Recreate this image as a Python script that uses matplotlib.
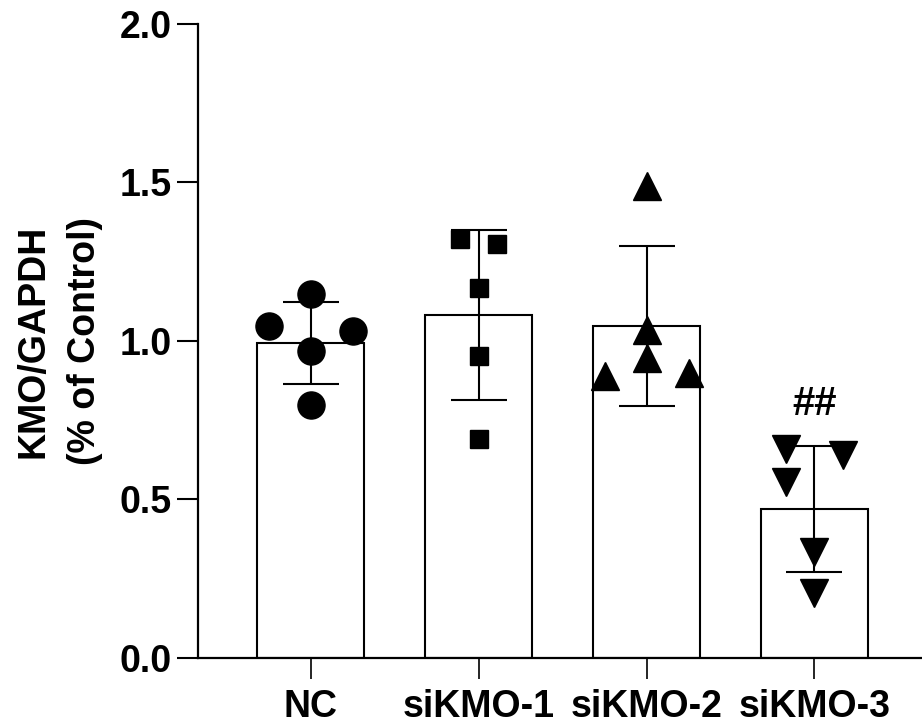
import numpy as np
import matplotlib
matplotlib.use("Agg")
import matplotlib.pyplot as plt

plt.rcParams['font.family'] = ['Liberation Sans', 'DejaVu Sans']
plt.rcParams['font.weight'] = 'bold'

# group names and bar heights (mean) with SD
groups = ["NC", "siKMO-1", "siKMO-2", "siKMO-3"]
means = [0.994, 1.082, 1.047, 0.470]
sds = [0.130, 0.268, 0.252, 0.200]

# individual points per group
nc_pts = [1.148, 1.047, 1.032, 0.968, 0.798]
si1_pts = [1.322, 1.306, 1.167, 0.953, 0.691]
si2_pts = [1.489, 1.035, 0.946, 0.890, 0.899]
si3_pts = [0.659, 0.640, 0.555, 0.334, 0.205]

# horizontal scatter of the points inside each bar
nc_dx = [0, -0.25, 0.25, 0, 0]
si1_dx = [-0.11, 0.11, 0, 0, 0]
si2_dx = [0, 0, 0, -0.25, 0.25]
si3_dx = [-0.17, 0.17, -0.17, 0, 0]

points = [nc_pts, si1_pts, si2_pts, si3_pts]
offsets = [nc_dx, si1_dx, si2_dx, si3_dx]
markers = ["o", "s", "^", "v"]
msizes = [19.5, 13, 19.5, 19.5]

fig = plt.figure(figsize=(9.22, 7.26), dpi=100)
ax = fig.add_axes([0.2148, 0.0937, 0.7852, 0.8733])

x = np.arange(len(groups))
ax.bar(x, means, width=0.64, color="white", edgecolor="black", linewidth=1.5, zorder=1)
ax.errorbar(x, means, yerr=sds, fmt="none", ecolor="black", elinewidth=1.5,
            capsize=20, capthick=1.5, zorder=2)

for i in range(len(groups)):
    ax.plot(x[i] + np.array(offsets[i]), points[i], linestyle="none",
            marker=markers[i], markersize=msizes[i], color="black", zorder=3)

ax.text(3, 0.80, "##", ha="center", va="center", fontsize=29, fontweight="bold")

ax.set_xlim(-0.67, 3.64)
ax.set_ylim(0, 2.0)
ax.set_yticks([0.0, 0.5, 1.0, 1.5, 2.0])
ax.set_yticklabels(["0.0", "0.5", "1.0", "1.5", "2.0"])
ax.set_xticks(x)
ax.set_xticklabels(groups)

ax.spines["top"].set_visible(False)
ax.spines["right"].set_visible(False)
ax.spines["left"].set_linewidth(1.6)
ax.spines["bottom"].set_linewidth(1.6)

ax.tick_params(axis="y", length=15, width=1.5, pad=4, labelsize=27)
ax.tick_params(axis="x", length=15, width=1.2, pad=7, labelsize=27)

ax.set_ylabel("KMO/GAPDH\n(% of Control)", fontsize=27, fontweight="bold",
              linespacing=1.55, labelpad=12)

fig.savefig("out.png", dpi=100)
